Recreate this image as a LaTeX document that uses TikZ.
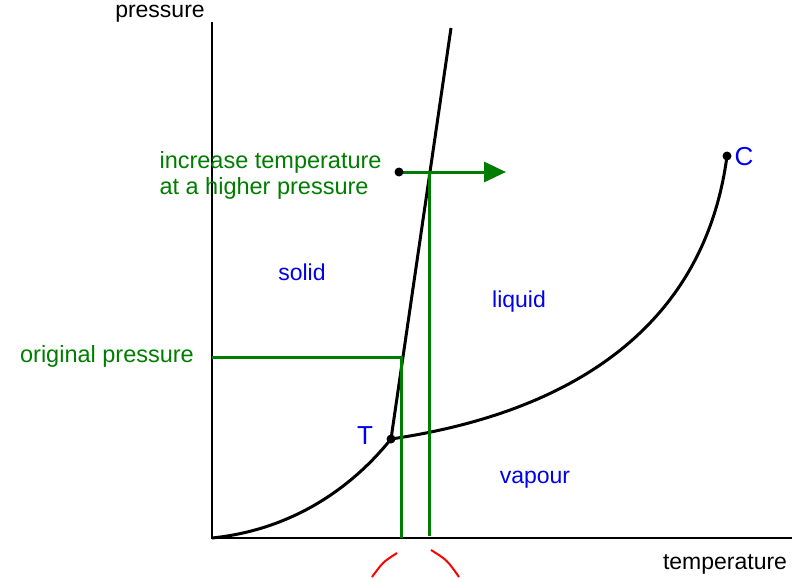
\documentclass[tikz,border=0pt]{standalone}
\usepackage{fontspec}
\setmainfont{Liberation Sans}
\usetikzlibrary{arrows.meta}
\definecolor{phgreen}{RGB}{0,125,0}
\definecolor{phblue}{RGB}{0,0,235}
\tikzset{
  curve/.style={line width=3pt,black},
  guide/.style={line width=3pt,phgreen},
  phase/.style={text=phblue,font=\fontsize{23}{26}\selectfont},
  note/.style={text=phgreen,font=\fontsize{23.5}{26}\selectfont},
}
\begin{document}
\begin{tikzpicture}[x=1pt,y=-1pt,font=\fontsize{23}{26}\selectfont]
\useasboundingbox (0,0) rectangle (800,578);
\coordinate (O) at (212,538);
\coordinate (Ytop) at (212,22);
\coordinate (Xend) at (792,538);
\coordinate (T) at (391,439);
\coordinate (C) at (727,156);
\coordinate (F) at (451,28);
% axes
\draw[line width=2.8pt] (Ytop) -- (O) -- (Xend);
\node (plab) at (160,14) {pressure};
\node (tlab) at (725,564) {temperature};
% phase boundaries
\draw[curve] (O) .. controls (290,530) and (350,490) .. (T);
\draw[curve] (T) -- (F);
\draw[curve] (T) .. controls (520,420) and (700,360) .. (C);
\fill (T) circle (4.5);
\fill (C) circle (4.5);
\node[phase,font=\fontsize{26}{28}\selectfont] (Tlab) at (365,436) {T};
\node[phase,font=\fontsize{26}{28}\selectfont] (Clab) at (744,157) {C};
% regions
\node[phase] (solid) at (302,272) {solid};
\node[phase] (liquid) at (519,302) {liquid};
\node[phase] (vapour) at (535,480) {vapour};
% original pressure
\coordinate (P1) at (212,357);
\coordinate (P2) at (401,357);
\coordinate (P3) at (401,538);
\draw[guide] (P1) -- (P2) -- (P3);
\node[note] (orig) at (107,356) {original pressure};
% higher pressure
\coordinate (H1) at (399,172);
\coordinate (H2) at (506,172);
\coordinate (V1) at (429,172);
\coordinate (V2) at (429,536);
\draw[guide] (V1) -- (V2);
\draw[guide,-{Triangle[length=22pt,width=20pt]}] (H1) -- (H2);
\fill (H1) circle (4.5);
\node[note,anchor=west,align=left] (incr) at (156,175) {increase temperature\\at a higher pressure};
% melting points
\coordinate (R1) at (372,577);
\coordinate (R2) at (397,553);
\coordinate (R3) at (431,550);
\coordinate (R4) at (459,577);
\draw[red,line width=2pt] (R1) .. controls (383,562) .. (R2);
\draw[red,line width=2pt] (R3) .. controls (447,560) .. (R4);
\end{tikzpicture}
\end{document}
